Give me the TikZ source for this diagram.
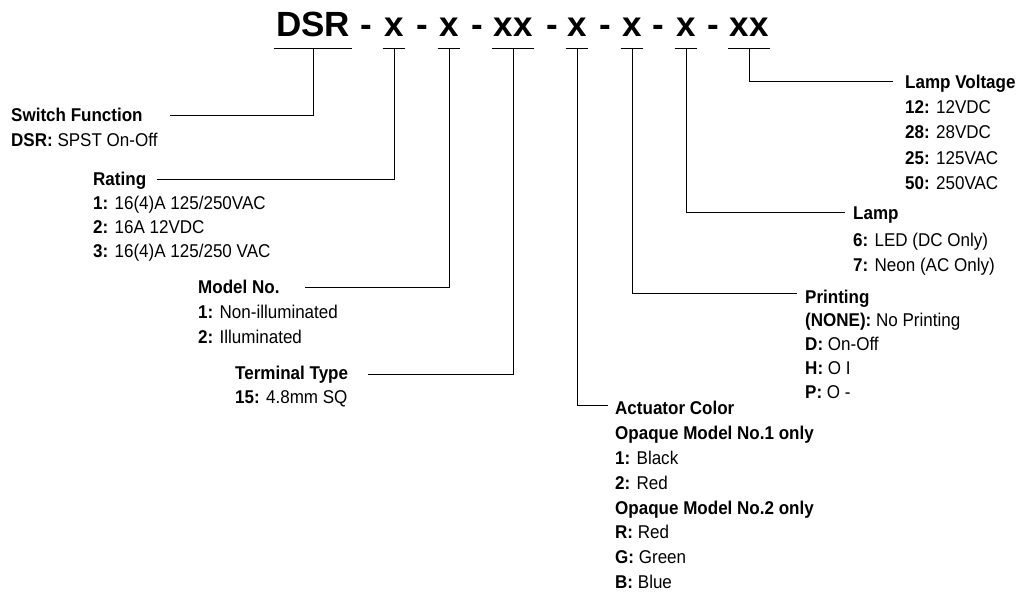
\documentclass[tikz,border=0pt]{standalone}
\usepackage{fontspec}
\setmainfont{Liberation Sans}[FakeStretch=0.92]
\newfontfamily\hdrfont{Liberation Sans}
\begin{document}
\begin{tikzpicture}[x=1pt,y=-1pt,
  tok/.style={anchor=base,inner xsep=1.5pt,inner ysep=0pt,text depth=11pt,font=\hdrfont\fontsize{35}{40}\selectfont\bfseries},
  sep/.style={anchor=base,inner sep=0pt,font=\hdrfont\fontsize{35}{40}\selectfont\bfseries},
  head/.style={anchor=base west,inner sep=0pt,font=\fontsize{18.5}{20}\selectfont\bfseries},
  item/.style={anchor=base west,inner sep=0pt,font=\fontsize{18.5}{20}\selectfont},
  conn/.style={draw=black,line width=0.9pt}]
\useasboundingbox (0,0) rectangle (1024,593);
% header tokens
\node[tok] (t1) at (313,37) {DSR};
\node[sep] (s1) at (366,37) {-};
\node[tok] (t2) at (394,37) {x};
\node[sep] (s2) at (422,37) {-};
\node[tok] (t3) at (449,37) {x};
\node[sep] (s3) at (477,37) {-};
\node[tok] (t4) at (513,37) {xx};
\node[sep] (s4) at (552,37) {-};
\node[tok] (t5) at (577,37) {x};
\node[sep] (s5) at (605,37) {-};
\node[tok] (t6) at (632,37) {x};
\node[sep] (s6) at (658,37) {-};
\node[tok] (t7) at (686,37) {x};
\node[sep] (s7) at (713,37) {-};
\node[tok] (t8) at (749,37) {xx};
\foreach \t in {t1,t2,t3,t4,t5,t6,t7,t8}
  \draw[conn] (\t.south west) -- (\t.south east);
% left labels
\node[head] (sf) at (11,121.5) {Switch Function};
\node[item] (sf1) at (11,146.5) {\textbf{DSR:} SPST On-Off};
\node[head] (rat) at (93,185.5) {Rating};
\node[item] (rat1) at (93,209.5) {\textbf{1:} 16(4)A 125/250VAC};
\node[item] (rat2) at (93,233.5) {\textbf{2:} 16A 12VDC};
\node[item] (rat3) at (93,257.5) {\textbf{3:} 16(4)A 125/250 VAC};
\node[head] (mod) at (198,293.5) {Model No.};
\node[item] (mod1) at (198,318.5) {\textbf{1:} Non-illuminated};
\node[item] (mod2) at (198,343.5) {\textbf{2:} Illuminated};
\node[head] (ter) at (235,379.5) {Terminal Type};
\node[item] (ter1) at (235,403.5) {\textbf{15:} 4.8mm SQ};
% right labels
\node[head] (lv) at (905,88.5) {Lamp Voltage};
\node[item] (lv1) at (905,113.5) {\textbf{12:} 12VDC};
\node[item] (lv2) at (905,138.5) {\textbf{28:} 28VDC};
\node[item] (lv3) at (905,164.5) {\textbf{25:} 125VAC};
\node[item] (lv4) at (905,189.5) {\textbf{50:} 250VAC};
\node[head] (lmp) at (853,219.5) {Lamp};
\node[item] (lmp1) at (853,246.5) {\textbf{6:} LED (DC Only)};
\node[item] (lmp2) at (853,271.5) {\textbf{7:} Neon (AC Only)};
\node[head] (prt) at (805,303.5) {Printing};
\node[item] (prt1) at (805,326.5) {\textbf{(NONE):} No Printing};
\node[item] (prt2) at (805,350.5) {\textbf{D:} On-Off};
\node[item] (prt3) at (805,374.5) {\textbf{H:} O I};
\node[item] (prt4) at (805,398.5) {\textbf{P:} O -};
\node[head] (act) at (615,414.5) {Actuator Color};
\node[head] (act1) at (615,439.5) {Opaque Model No.1 only};
\node[item] (act2) at (615,464.5) {\textbf{1:} Black};
\node[item] (act3) at (615,489.5) {\textbf{2:} Red};
\node[head] (act4) at (615,514.5) {Opaque Model No.2 only};
\node[item] (act5) at (615,538.5) {\textbf{R:} Red};
\node[item] (act6) at (615,563.5) {\textbf{G:} Green};
\node[item] (act7) at (615,588.5) {\textbf{B:} Blue};
% connector ends
\coordinate (sfE) at (170,115);
\coordinate (ratE) at (157,179);
\coordinate (modE) at (305,287);
\coordinate (terE) at (368,374);
\coordinate (actE) at (608,405);
\coordinate (prtE) at (797,293);
\coordinate (lmpE) at (845,212);
\coordinate (lvE) at (893,81);
\draw[conn] (t1.south) |- (sfE);
\draw[conn] (t2.south) |- (ratE);
\draw[conn] (t3.south) |- (modE);
\draw[conn] (t4.south) |- (terE);
\draw[conn] (t5.south) |- (actE);
\draw[conn] (t6.south) |- (prtE);
\draw[conn] (t7.south) |- (lmpE);
\draw[conn] (t8.south) |- (lvE);
\end{tikzpicture}
\end{document}
